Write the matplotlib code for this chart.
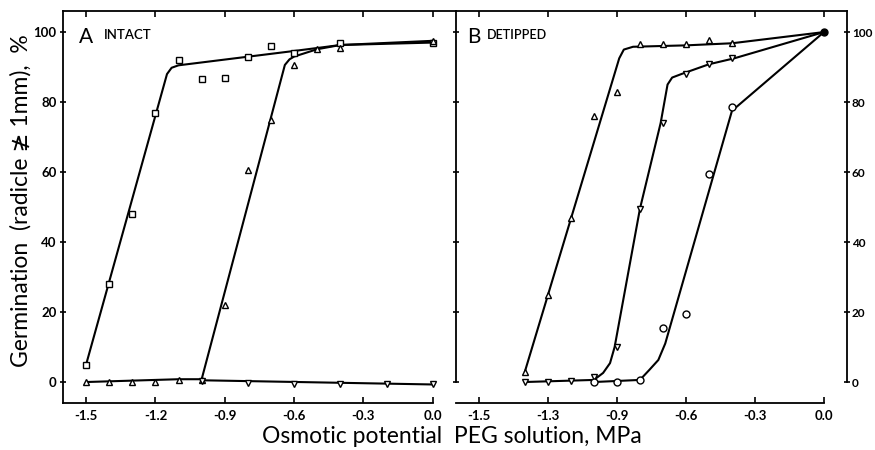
import matplotlib.pyplot as plt

plt.rcParams['font.family'] = ['Lato', 'DejaVu Sans']

# ---- Panel A (intact) ----
a_sq_x = [-1.5, -1.4, -1.3, -1.2, -1.1, -1.0, -0.9, -0.8, -0.7, -0.6, -0.4, 0.0]
a_sq_y = [5, 28, 48, 77, 92, 86.5, 87, 93, 96, 94, 96.8, 97]
a_sq_fit_x = [-1.5, -1.15, -1.13, -1.10, -0.6, -0.4, 0.0]
a_sq_fit_y = [5, 88, 89.8, 90.5, 94.6, 96.3, 97]

a_tri_x = [-1.5, -1.4, -1.3, -1.2, -1.1, -1.0, -0.9, -0.8, -0.7, -0.6, -0.5, -0.4, 0.0]
a_tri_y = [0, 0, 0, 0, 0.7, 0.5, 22, 60.5, 75, 90.6, 95.1, 95.5, 97.5]
a_tri_fit_x = [-1.5, -1.1, -1.0, -0.64, -0.62, -0.6, -0.5, -0.4, 0.0]
a_tri_fit_y = [0, 0.8, 0.8, 90.6, 92.2, 93, 95.1, 96.3, 97.5]

a_dtri_x = [-1.0, -0.8, -0.6, -0.4, -0.2, 0.0]
a_dtri_y = [0.3, -0.2, -0.5, -0.5, -0.5, -0.6]
a_dtri_fit_x = [-1.0, 0.0]
a_dtri_fit_y = [0.5, -0.7]

# ---- Panel B (detipped) ----
b_tri_x = [-1.3, -1.2, -1.1, -1.0, -0.9, -0.8, -0.7, -0.6, -0.5, -0.4, 0.0]
b_tri_y = [3, 25, 47, 76, 83, 96.5, 96.5, 96.5, 97.8, 96.8, 100]
b_tri_fit_x = [-1.3, -0.89, -0.87, -0.83, -0.6, -0.4, 0.0]
b_tri_fit_y = [3, 92.5, 95, 95.8, 96.2, 96.8, 100]

b_dtri_x = [-1.3, -1.2, -1.1, -1.0, -0.9, -0.8, -0.7, -0.6, -0.5, -0.4, 0.0]
b_dtri_y = [0, 0, 0.3, 1.3, 10, 49.5, 74, 88, 90.8, 92.5, 100]
b_dtri_fit_x = [-1.3, -1.0, -0.96, -0.93, -0.91, -0.8, -0.71, -0.68, -0.66, -0.62, -0.5, -0.39, 0.0]
b_dtri_fit_y = [0, 0.6, 2.6, 5.4, 10, 49.5, 74, 85, 87, 88, 90.8, 92.5, 100]

b_circ_x = [-1.0, -0.9, -0.8, -0.7, -0.6, -0.5, -0.4, 0.0]
b_circ_y = [0, 0, 0.6, 15.5, 19.5, 59.5, 78.5, 100]
b_circ_fit_x = [-1.0, -0.8, -0.76, -0.72, -0.69, -0.40, 0.0]
b_circ_fit_y = [0, 0.6, 3.4, 6.3, 11, 77.5, 100]

x_ticks = [-1.5, -1.2, -0.9, -0.6, -0.3, 0.0]
a_xlabels = ['-1.5', '-1.2', '-0.9', '-0.6', '-0.3', '0.0']
b_xlabels = ['-1.5', '-1.3', '-0.9', '-0.6', '-0.3', '0.0']
y_ticks = [0, 20, 40, 60, 80, 100]

fig = plt.figure(figsize=(8.75, 4.5), dpi=100)
axA = fig.add_axes([0.072, 0.1044, 0.449, 0.871])
axB = fig.add_axes([0.521, 0.1044, 0.447, 0.871])

mk = dict(markersize=5, markerfacecolor='white', markeredgecolor='black',
          markeredgewidth=1.0, linestyle='none', zorder=3)
ln = dict(color='black', linewidth=1.5, zorder=2)

axA.plot(a_sq_fit_x, a_sq_fit_y, **ln)
axA.plot(a_tri_fit_x, a_tri_fit_y, **ln)
axA.plot(a_dtri_fit_x, a_dtri_fit_y, **ln)
axA.plot(a_sq_x, a_sq_y, marker='s', **mk)
axA.plot(a_tri_x, a_tri_y, marker='^', **mk)
axA.plot(a_dtri_x, a_dtri_y, marker='v', **mk)

axB.plot(b_tri_fit_x, b_tri_fit_y, **ln)
axB.plot(b_dtri_fit_x, b_dtri_fit_y, **ln)
axB.plot(b_circ_fit_x, b_circ_fit_y, **ln)
axB.plot(b_tri_x[:-1], b_tri_y[:-1], marker='^', **mk)
axB.plot(b_dtri_x[:-1], b_dtri_y[:-1], marker='v', **mk)
axB.plot(b_circ_x[:-1], b_circ_y[:-1], marker='o', **mk)
axB.plot(b_circ_x[-1:], b_circ_y[-1:], marker='o', markersize=5,
         color='black', linestyle='none', zorder=4)

for ax in (axA, axB):
    ax.set_xlim(-1.6, 0.1)
    ax.set_ylim(-6, 106)
    ax.set_xticks(x_ticks)
    ax.set_yticks(y_ticks)
    ax.spines['bottom'].set_bounds(-1.6, 0.0)
    for s in ax.spines.values():
        s.set_linewidth(1.3)
    ax.tick_params(axis='x', which='both', direction='in', top=True,
                   length=4, width=1.2, labelsize=9.5, pad=5)

axA.set_xticklabels(a_xlabels, fontweight='bold')
axB.set_xticklabels(b_xlabels, fontweight='bold')

axA.spines['right'].set_visible(False)
axA.tick_params(axis='y', direction='inout', length=5, width=1.2,
                labelsize=9.5, pad=2)
axA.set_yticklabels([str(v) for v in y_ticks], fontweight='bold')

axB.spines['left'].set_bounds(0, 106)
axB.spines['right'].set_bounds(0, 106)
axB.tick_params(axis='y', direction='inout', left=True, right=True,
                labelleft=False, labelright=True, length=5, width=1.2,
                labelsize=8.5, pad=1)
axB.set_yticklabels([str(v) for v in y_ticks], fontweight='bold')

axA.text(0.04, 0.935, 'A', transform=axA.transAxes, fontsize=15, va='center')
axA.text(0.105, 0.94, 'INTACT', transform=axA.transAxes, fontsize=9.5,
         fontweight='semibold', va='center')
axB.text(0.03, 0.935, 'B', transform=axB.transAxes, fontsize=15, va='center')
axB.text(0.08, 0.94, 'DETIPPED', transform=axB.transAxes, fontsize=9,
         fontweight='semibold', va='center')

fig.text(0.517, 0.03, 'Osmotic potential  PEG solution, MPa', ha='center',
         va='center', fontsize=16.5)
fig.text(0.024, 0.555, 'Germination  (radicle \u2271 1mm),  %', ha='center',
         va='center', rotation=90, fontsize=16.5)

fig.savefig('out.png', dpi=100)
